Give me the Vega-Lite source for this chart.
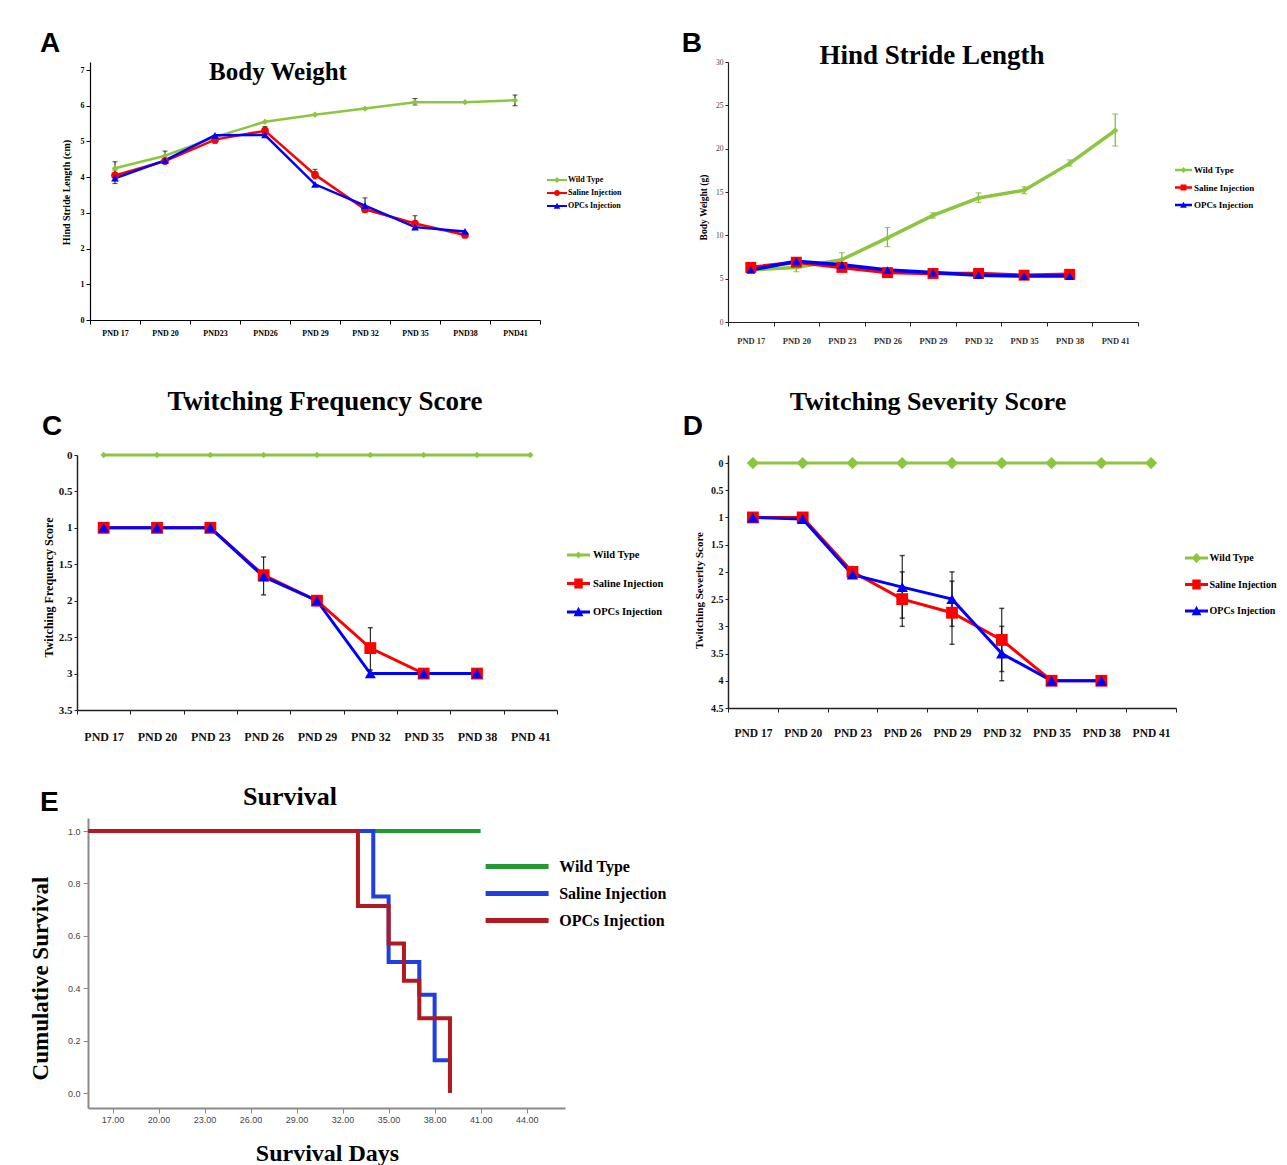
{
  "$schema": "https://vega.github.io/schema/vega-lite/v6.json",
  "background": "white",
  "padding": {"left": 29, "top": 30, "right": 5, "bottom": 5},
  "config": {"view": {"stroke": null}, "axis": {"grid": false}},
  "resolve": {"scale": {"color": "independent"}, "legend": {"color": "independent"}},
  "columns": 4,
  "spacing": 0,
  "bounds": "flush",
  "align": {"row": "each", "column": "each"},
  "datasets": {
    "bw": [
      {"series": "Wild Type", "day": "PND 17", "value": 4.25, "lo": 4.07, "hi": 4.43},
      {"series": "Wild Type", "day": "PND 20", "value": 4.6, "lo": 4.47, "hi": 4.73},
      {"series": "Wild Type", "day": "PND23", "value": 5.12},
      {"series": "Wild Type", "day": "PND26", "value": 5.55},
      {"series": "Wild Type", "day": "PND 29", "value": 5.75},
      {"series": "Wild Type", "day": "PND 32", "value": 5.92},
      {"series": "Wild Type", "day": "PND 35", "value": 6.1, "lo": 6.02, "hi": 6.2},
      {"series": "Wild Type", "day": "PND38", "value": 6.1},
      {"series": "Wild Type", "day": "PND41", "value": 6.15, "lo": 6.0, "hi": 6.3},
      {"series": "Saline Injection", "day": "PND 17", "value": 4.05, "lo": 3.9, "hi": 4.2},
      {"series": "Saline Injection", "day": "PND 20", "value": 4.45},
      {"series": "Saline Injection", "day": "PND23", "value": 5.05, "lo": 4.95, "hi": 5.15},
      {"series": "Saline Injection", "day": "PND26", "value": 5.3, "lo": 5.2, "hi": 5.42},
      {"series": "Saline Injection", "day": "PND 29", "value": 4.07, "lo": 3.95, "hi": 4.22},
      {"series": "Saline Injection", "day": "PND 32", "value": 3.1, "lo": 3.02, "hi": 3.18},
      {"series": "Saline Injection", "day": "PND 35", "value": 2.7, "lo": 2.55, "hi": 2.92},
      {"series": "Saline Injection", "day": "PND38", "value": 2.38},
      {"series": "OPCs Injection", "day": "PND 17", "value": 3.97, "lo": 3.82, "hi": 4.1},
      {"series": "OPCs Injection", "day": "PND 20", "value": 4.47},
      {"series": "OPCs Injection", "day": "PND23", "value": 5.17},
      {"series": "OPCs Injection", "day": "PND26", "value": 5.18},
      {"series": "OPCs Injection", "day": "PND 29", "value": 3.8},
      {"series": "OPCs Injection", "day": "PND 32", "value": 3.2, "lo": 3.05, "hi": 3.42},
      {"series": "OPCs Injection", "day": "PND 35", "value": 2.6},
      {"series": "OPCs Injection", "day": "PND38", "value": 2.48}
    ],
    "hs": [
      {"series": "Wild Type", "day": "PND 17", "value": 6.0},
      {"series": "Wild Type", "day": "PND 20", "value": 6.3, "lo": 5.8, "hi": 6.9},
      {"series": "Wild Type", "day": "PND 23", "value": 7.2, "lo": 6.7, "hi": 8.0},
      {"series": "Wild Type", "day": "PND 26", "value": 9.7, "lo": 8.7, "hi": 10.9},
      {"series": "Wild Type", "day": "PND 29", "value": 12.3, "lo": 12.0, "hi": 12.6},
      {"series": "Wild Type", "day": "PND 32", "value": 14.3, "lo": 13.8, "hi": 14.9},
      {"series": "Wild Type", "day": "PND 35", "value": 15.2, "lo": 14.8, "hi": 15.6},
      {"series": "Wild Type", "day": "PND 38", "value": 18.3, "lo": 18.0, "hi": 18.7},
      {"series": "Wild Type", "day": "PND 41", "value": 22.1, "lo": 20.3, "hi": 24.0},
      {"series": "Saline Injection", "day": "PND 17", "value": 6.3},
      {"series": "Saline Injection", "day": "PND 20", "value": 6.9},
      {"series": "Saline Injection", "day": "PND 23", "value": 6.3},
      {"series": "Saline Injection", "day": "PND 26", "value": 5.7},
      {"series": "Saline Injection", "day": "PND 29", "value": 5.6},
      {"series": "Saline Injection", "day": "PND 32", "value": 5.6},
      {"series": "Saline Injection", "day": "PND 35", "value": 5.4},
      {"series": "Saline Injection", "day": "PND 38", "value": 5.5},
      {"series": "OPCs Injection", "day": "PND 17", "value": 6.0},
      {"series": "OPCs Injection", "day": "PND 20", "value": 7.0},
      {"series": "OPCs Injection", "day": "PND 23", "value": 6.6},
      {"series": "OPCs Injection", "day": "PND 26", "value": 6.0},
      {"series": "OPCs Injection", "day": "PND 29", "value": 5.7},
      {"series": "OPCs Injection", "day": "PND 32", "value": 5.4},
      {"series": "OPCs Injection", "day": "PND 35", "value": 5.3},
      {"series": "OPCs Injection", "day": "PND 38", "value": 5.3}
    ],
    "tf": [
      {"series": "Wild Type", "day": "PND 17", "value": 0},
      {"series": "Wild Type", "day": "PND 20", "value": 0},
      {"series": "Wild Type", "day": "PND 23", "value": 0},
      {"series": "Wild Type", "day": "PND 26", "value": 0},
      {"series": "Wild Type", "day": "PND 29", "value": 0},
      {"series": "Wild Type", "day": "PND 32", "value": 0},
      {"series": "Wild Type", "day": "PND 35", "value": 0},
      {"series": "Wild Type", "day": "PND 38", "value": 0},
      {"series": "Wild Type", "day": "PND 41", "value": 0},
      {"series": "Saline Injection", "day": "PND 17", "value": 1},
      {"series": "Saline Injection", "day": "PND 20", "value": 1},
      {"series": "Saline Injection", "day": "PND 23", "value": 1},
      {"series": "Saline Injection", "day": "PND 26", "value": 1.65, "lo": 1.4, "hi": 1.92},
      {"series": "Saline Injection", "day": "PND 29", "value": 2},
      {"series": "Saline Injection", "day": "PND 32", "value": 2.65, "lo": 2.37, "hi": 2.95},
      {"series": "Saline Injection", "day": "PND 35", "value": 3},
      {"series": "Saline Injection", "day": "PND 38", "value": 3},
      {"series": "OPCs Injection", "day": "PND 17", "value": 1},
      {"series": "OPCs Injection", "day": "PND 20", "value": 1},
      {"series": "OPCs Injection", "day": "PND 23", "value": 1},
      {"series": "OPCs Injection", "day": "PND 26", "value": 1.67},
      {"series": "OPCs Injection", "day": "PND 29", "value": 2},
      {"series": "OPCs Injection", "day": "PND 32", "value": 3},
      {"series": "OPCs Injection", "day": "PND 35", "value": 3},
      {"series": "OPCs Injection", "day": "PND 38", "value": 3}
    ],
    "ts": [
      {"series": "Wild Type", "day": "PND 17", "value": 0},
      {"series": "Wild Type", "day": "PND 20", "value": 0},
      {"series": "Wild Type", "day": "PND 23", "value": 0},
      {"series": "Wild Type", "day": "PND 26", "value": 0},
      {"series": "Wild Type", "day": "PND 29", "value": 0},
      {"series": "Wild Type", "day": "PND 32", "value": 0},
      {"series": "Wild Type", "day": "PND 35", "value": 0},
      {"series": "Wild Type", "day": "PND 38", "value": 0},
      {"series": "Wild Type", "day": "PND 41", "value": 0},
      {"series": "Saline Injection", "day": "PND 17", "value": 1},
      {"series": "Saline Injection", "day": "PND 20", "value": 1},
      {"series": "Saline Injection", "day": "PND 23", "value": 2},
      {"series": "Saline Injection", "day": "PND 26", "value": 2.5, "lo": 2.0, "hi": 3.0},
      {"series": "Saline Injection", "day": "PND 29", "value": 2.75, "lo": 2.17, "hi": 3.33},
      {"series": "Saline Injection", "day": "PND 32", "value": 3.25, "lo": 2.67, "hi": 3.83},
      {"series": "Saline Injection", "day": "PND 35", "value": 4},
      {"series": "Saline Injection", "day": "PND 38", "value": 4},
      {"series": "OPCs Injection", "day": "PND 17", "value": 1},
      {"series": "OPCs Injection", "day": "PND 20", "value": 1.03},
      {"series": "OPCs Injection", "day": "PND 23", "value": 2.05},
      {"series": "OPCs Injection", "day": "PND 26", "value": 2.28, "lo": 1.7, "hi": 2.85},
      {"series": "OPCs Injection", "day": "PND 29", "value": 2.5, "lo": 2.0, "hi": 3.0},
      {"series": "OPCs Injection", "day": "PND 32", "value": 3.5, "lo": 3.0, "hi": 4.0},
      {"series": "OPCs Injection", "day": "PND 35", "value": 4},
      {"series": "OPCs Injection", "day": "PND 38", "value": 4}
    ],
    "sv": [
      {"series": "Wild Type", "day": 15.4, "surv": 1},
      {"series": "Wild Type", "day": 41, "surv": 1},
      {"series": "Saline Injection", "day": 15.4, "surv": 1},
      {"series": "Saline Injection", "day": 34, "surv": 0.75},
      {"series": "Saline Injection", "day": 35, "surv": 0.5},
      {"series": "Saline Injection", "day": 37, "surv": 0.375},
      {"series": "Saline Injection", "day": 38, "surv": 0.125},
      {"series": "Saline Injection", "day": 39, "surv": 0},
      {"series": "OPCs Injection", "day": 15.4, "surv": 1},
      {"series": "OPCs Injection", "day": 33, "surv": 0.714},
      {"series": "OPCs Injection", "day": 35, "surv": 0.571},
      {"series": "OPCs Injection", "day": 36, "surv": 0.429},
      {"series": "OPCs Injection", "day": 37, "surv": 0.286},
      {"series": "OPCs Injection", "day": 39, "surv": 0}
    ]
  },
  "concat": [
    {"width": 13, "height": 1, "data": {"values": []}, "mark": "point", "encoding": {},
     "title": {"text": "A", "anchor": "start", "frame": "group", "font": "Liberation Sans", "fontSize": 28, "fontWeight": "bold", "color": "black", "baseline": "alphabetic", "offset": 0, "dx": -37, "dy": 18}},
    {
      "width": 450, "height": 258,
      "data": {"name": "bw"},
      "title": {"text": "Body Weight", "font": "Liberation Serif", "fontSize": 25, "fontWeight": "bold", "color": "black", "anchor": "middle", "frame": "group", "baseline": "alphabetic", "offset": 0, "dx": -37, "dy": 43},
      "encoding": {
        "x": {"field": "day", "type": "nominal", "sort": null,
              "scale": {"type": "band", "domain": ["PND 17","PND 20","PND23","PND26","PND 29","PND 32","PND 35","PND38","PND41"], "paddingInner": 0, "paddingOuter": 0},
              "axis": {"title": null, "labelAngle": 0, "tickBand": "extent", "labelFont": "Liberation Serif", "labelFontWeight": "bold", "labelFontSize": 8, "labelColor": "black", "domainColor": "black", "domainWidth": 1.2, "tickColor": "black", "tickSize": 4, "labelPadding": 5}},
        "y": {"field": "value", "type": "quantitative", "scale": {"domain": [0, 7.224], "nice": false, "zero": false},
              "axis": {"values": [0,1,2,3,4,5,6,7], "labelOverlap": false, "title": "Hind Stride Length (cm)", "titleFont": "Liberation Serif", "titleFontSize": 10, "titleFontWeight": "bold", "titleColor": "black", "titleX": -19, "titleY": 130, "titleAngle": 270, "titleBaseline": "bottom", "titleAlign": "center", "labelFont": "Liberation Serif", "labelFontSize": 8, "labelFontWeight": "bold", "labelColor": "black", "domainColor": "black", "domainWidth": 1.2, "tickColor": "black", "tickSize": 4}}
      },
      "layer": [
        {"mark": {"type": "line", "strokeWidth": 2.5},
         "encoding": {
           "color": {"field": "series", "type": "nominal", "scale": {"domain": ["Wild Type","Saline Injection","OPCs Injection"], "range": ["#8cc63e","#ff0000","#0000ff"]},
                     "legend": {"orient": "none", "legendX": 461, "legendY": 112, "title": null, "padding": 0, "labelFont": "Liberation Serif", "labelFontWeight": "bold", "labelFontSize": 8, "labelColor": "black", "labelOffset": 5, "symbolSize": 144, "symbolStrokeWidth": 0, "rowPadding": 3,
                       "symbolType": {"expr": "datum.value === 'Wild Type' ? 'M-1.667,-0.17H1.667V0.17H-1.667ZM0,-0.5L0.5,0L0,0.5L-0.5,0Z' : datum.value === 'Saline Injection' ? 'M-1.667,-0.17H1.667V0.17H-1.667ZM0.5,0A0.5,0.5,0,1,1,-0.5,0A0.5,0.5,0,1,1,0.5,0Z' : 'M-1.667,-0.17H1.667V0.17H-1.667ZM0,-0.55L0.55,0.45L-0.55,0.45Z'"},
                       "symbolFillColor": {"expr": "datum.value === 'Wild Type' ? '#8cc63e' : datum.value === 'Saline Injection' ? '#ff0000' : '#0000ff'"}}}
         }},
        {"transform": [{"filter": "isValid(datum.lo)"}], "mark": {"type": "rule", "color": "black", "strokeWidth": 1},
         "encoding": {"y": {"field": "lo", "type": "quantitative", "scale": {"domain": [0, 7.224], "nice": false, "zero": false},
              "axis": {"values": [0,1,2,3,4,5,6,7], "labelOverlap": false, "title": "Hind Stride Length (cm)", "titleFont": "Liberation Serif", "titleFontSize": 10, "titleFontWeight": "bold", "titleColor": "black", "titleX": -19, "titleY": 130, "titleAngle": 270, "titleBaseline": "bottom", "titleAlign": "center", "labelFont": "Liberation Serif", "labelFontSize": 8, "labelFontWeight": "bold", "labelColor": "black", "domainColor": "black", "domainWidth": 1.2, "tickColor": "black", "tickSize": 4}}, "y2": {"field": "hi"}}},
        {"transform": [{"filter": "isValid(datum.lo)"}], "mark": {"type": "tick", "color": "black", "thickness": 1, "size": 5, "orient": "horizontal"},
         "encoding": {"y": {"field": "lo", "type": "quantitative", "scale": {"domain": [0, 7.224], "nice": false, "zero": false},
              "axis": {"values": [0,1,2,3,4,5,6,7], "labelOverlap": false, "title": "Hind Stride Length (cm)", "titleFont": "Liberation Serif", "titleFontSize": 10, "titleFontWeight": "bold", "titleColor": "black", "titleX": -19, "titleY": 130, "titleAngle": 270, "titleBaseline": "bottom", "titleAlign": "center", "labelFont": "Liberation Serif", "labelFontSize": 8, "labelFontWeight": "bold", "labelColor": "black", "domainColor": "black", "domainWidth": 1.2, "tickColor": "black", "tickSize": 4}}}},
        {"transform": [{"filter": "isValid(datum.lo)"}], "mark": {"type": "tick", "color": "black", "thickness": 1, "size": 5, "orient": "horizontal"},
         "encoding": {"y": {"field": "hi", "type": "quantitative", "scale": {"domain": [0, 7.224], "nice": false, "zero": false},
              "axis": {"values": [0,1,2,3,4,5,6,7], "labelOverlap": false, "title": "Hind Stride Length (cm)", "titleFont": "Liberation Serif", "titleFontSize": 10, "titleFontWeight": "bold", "titleColor": "black", "titleX": -19, "titleY": 130, "titleAngle": 270, "titleBaseline": "bottom", "titleAlign": "center", "labelFont": "Liberation Serif", "labelFontSize": 8, "labelFontWeight": "bold", "labelColor": "black", "domainColor": "black", "domainWidth": 1.2, "tickColor": "black", "tickSize": 4}}}},
        {"transform": [{"filter": "datum.series === 'Wild Type'"}], "mark": {"type": "point", "shape": "diamond", "filled": true, "opacity": 1, "size": 40, "color": "#8cc63e"}, "encoding": {}},
        {"transform": [{"filter": "datum.series === 'Saline Injection'"}], "mark": {"type": "point", "shape": "circle", "filled": true, "opacity": 1, "size": 60, "color": "#ff0000"}, "encoding": {}},
        {"transform": [{"filter": "datum.series === 'OPCs Injection'"}], "mark": {"type": "point", "shape": "triangle-up", "filled": true, "opacity": 1, "size": 60, "color": "#0000ff"}, "encoding": {}}
      ]
    },
    {"width": 163, "height": 1, "data": {"values": []}, "mark": "point", "encoding": {},
     "title": {"text": "B", "anchor": "end", "frame": "group", "font": "Liberation Sans", "fontSize": 28, "fontWeight": "bold", "color": "black", "baseline": "alphabetic", "offset": 0, "dx": -26, "dy": 18}},
    {
      "width": 410, "height": 260,
      "data": {"name": "hs"},
      "title": {"text": "Hind Stride Length", "font": "Liberation Serif", "fontSize": 27, "fontWeight": "bold", "color": "black", "anchor": "middle", "frame": "group", "baseline": "alphabetic", "offset": 0, "dx": -1, "dy": 33},
      "encoding": {
        "x": {"field": "day", "type": "nominal", "sort": null,
              "scale": {"type": "band", "domain": ["PND 17","PND 20","PND 23","PND 26","PND 29","PND 32","PND 35","PND 38","PND 41"], "paddingInner": 0, "paddingOuter": 0},
              "axis": {"title": null, "labelAngle": 0, "tickBand": "extent", "labelFont": "Liberation Serif", "labelFontWeight": "bold", "labelFontSize": 8.5, "labelColor": "#333333", "domainColor": "#222222", "domainWidth": 1.2, "tickColor": "#222222", "tickSize": 4, "labelPadding": 10}},
        "y": {"field": "value", "type": "quantitative", "scale": {"domain": [0, 30], "nice": false, "zero": false},
              "axis": {"values": [0,5,10,15,20,25,30], "labelOverlap": false, "title": "Body Weight (g)", "titleFont": "Liberation Serif", "titleFontSize": 9.5, "titleFontWeight": "bold", "titleColor": "black", "titleX": -20, "titleY": 145, "titleAngle": 270, "titleBaseline": "bottom", "titleAlign": "center", "labelFont": "Liberation Serif", "labelFontSize": 7.5, "labelColor": "#444444", "domainColor": "#222222", "domainWidth": 1.2, "tickColor": "#222222", "tickSize": 3}}
      },
      "layer": [
        {"mark": {"type": "line", "strokeWidth": 3.5},
         "encoding": {
           "color": {"field": "series", "type": "nominal", "scale": {"domain": ["Wild Type","Saline Injection","OPCs Injection"], "range": ["#8cc63e","#ff0000","#0000ff"]},
                     "legend": {"orient": "none", "legendX": 449.5, "legendY": 102, "title": null, "padding": 0, "labelFont": "Liberation Serif", "labelFontWeight": "bold", "labelFontSize": 9, "labelColor": "black", "labelOffset": 4.5, "symbolSize": 144, "symbolStrokeWidth": 0, "rowPadding": 6.5,
                       "symbolType": {"expr": "datum.value === 'Wild Type' ? 'M-1.417,-0.2H1.417V0.2H-1.417ZM0,-0.5L0.5,0L0,0.5L-0.5,0Z' : datum.value === 'Saline Injection' ? 'M-1.417,-0.2H1.417V0.2H-1.417ZM-0.5,-0.5H0.5V0.5H-0.5Z' : 'M-1.417,-0.2H1.417V0.2H-1.417ZM0,-0.55L0.55,0.45L-0.55,0.45Z'"},
                       "symbolFillColor": {"expr": "datum.value === 'Wild Type' ? '#8cc63e' : datum.value === 'Saline Injection' ? '#ff0000' : '#0000ff'"}}}
         }},
        {"transform": [{"filter": "isValid(datum.lo)"}], "mark": {"type": "rule", "color": "#7fb536", "strokeWidth": 1.2},
         "encoding": {"y": {"field": "lo", "type": "quantitative", "scale": {"domain": [0, 30], "nice": false, "zero": false},
              "axis": {"values": [0,5,10,15,20,25,30], "labelOverlap": false, "title": "Body Weight (g)", "titleFont": "Liberation Serif", "titleFontSize": 9.5, "titleFontWeight": "bold", "titleColor": "black", "titleX": -20, "titleY": 145, "titleAngle": 270, "titleBaseline": "bottom", "titleAlign": "center", "labelFont": "Liberation Serif", "labelFontSize": 7.5, "labelColor": "#444444", "domainColor": "#222222", "domainWidth": 1.2, "tickColor": "#222222", "tickSize": 3}}, "y2": {"field": "hi"}}},
        {"transform": [{"filter": "isValid(datum.lo)"}], "mark": {"type": "tick", "color": "#7fb536", "thickness": 1.2, "size": 6, "orient": "horizontal"},
         "encoding": {"y": {"field": "lo", "type": "quantitative", "scale": {"domain": [0, 30], "nice": false, "zero": false},
              "axis": {"values": [0,5,10,15,20,25,30], "labelOverlap": false, "title": "Body Weight (g)", "titleFont": "Liberation Serif", "titleFontSize": 9.5, "titleFontWeight": "bold", "titleColor": "black", "titleX": -20, "titleY": 145, "titleAngle": 270, "titleBaseline": "bottom", "titleAlign": "center", "labelFont": "Liberation Serif", "labelFontSize": 7.5, "labelColor": "#444444", "domainColor": "#222222", "domainWidth": 1.2, "tickColor": "#222222", "tickSize": 3}}}},
        {"transform": [{"filter": "isValid(datum.lo)"}], "mark": {"type": "tick", "color": "#7fb536", "thickness": 1.2, "size": 6, "orient": "horizontal"},
         "encoding": {"y": {"field": "hi", "type": "quantitative", "scale": {"domain": [0, 30], "nice": false, "zero": false},
              "axis": {"values": [0,5,10,15,20,25,30], "labelOverlap": false, "title": "Body Weight (g)", "titleFont": "Liberation Serif", "titleFontSize": 9.5, "titleFontWeight": "bold", "titleColor": "black", "titleX": -20, "titleY": 145, "titleAngle": 270, "titleBaseline": "bottom", "titleAlign": "center", "labelFont": "Liberation Serif", "labelFontSize": 7.5, "labelColor": "#444444", "domainColor": "#222222", "domainWidth": 1.2, "tickColor": "#222222", "tickSize": 3}}}},
        {"transform": [{"filter": "datum.series === 'Wild Type'"}], "mark": {"type": "point", "shape": "diamond", "filled": true, "opacity": 1, "size": 40, "color": "#8cc63e"}, "encoding": {}},
        {"transform": [{"filter": "datum.series === 'Saline Injection'"}], "mark": {"type": "point", "shape": "square", "filled": true, "opacity": 1, "size": 120, "color": "#ff0000"}, "encoding": {}},
        {"transform": [{"filter": "datum.series === 'OPCs Injection'"}], "mark": {"type": "point", "shape": "triangle-up", "filled": true, "opacity": 1, "size": 80, "color": "#0000ff"}, "encoding": {}}
      ]
    },
    {"width": 1, "height": 133, "data": {"values": []}, "mark": "point", "encoding": {},
     "title": {"text": "C", "anchor": "start", "frame": "group", "font": "Liberation Sans", "fontSize": 28, "fontWeight": "bold", "color": "black", "baseline": "alphabetic", "offset": 0, "dx": -35, "dy": 141}},
    {"width": 1, "height": 1, "data": {"values": []}, "mark": "point", "encoding": {}},
    {"width": 1, "height": 1, "data": {"values": []}, "mark": "point", "encoding": {}},
    {"width": 1, "height": 1, "data": {"values": []}, "mark": "point", "encoding": {}},
    {"width": 1, "height": 1, "data": {"values": []}, "mark": "point", "encoding": {}},
    {
      "width": 467, "height": 255,
      "data": {"name": "tf"},
      "title": {"text": "Twitching Frequency Score", "font": "Liberation Serif", "fontSize": 27, "fontWeight": "bold", "color": "black", "anchor": "middle", "frame": "group", "baseline": "alphabetic", "offset": 0, "dx": 1.5, "dy": -12},
      "encoding": {
        "x": {"field": "day", "type": "nominal", "sort": null,
              "scale": {"type": "band", "domain": ["PND 17","PND 20","PND 23","PND 26","PND 29","PND 32","PND 35","PND 38","PND 41"], "range": [-13, 467], "paddingInner": 0, "paddingOuter": 0},
              "axis": {"title": null, "labelAngle": 0, "tickBand": "extent", "labelFont": "Liberation Serif", "labelFontWeight": "bold", "labelFontSize": 12, "labelColor": "#111111", "domainColor": "#222222", "domainWidth": 1.5, "tickColor": "#222222", "tickSize": 4, "labelPadding": 17}},
        "y": {"field": "value", "type": "quantitative", "scale": {"domain": [0, 3.5], "reverse": true, "nice": false, "zero": false},
              "axis": {"offset": 13, "values": [0,0.5,1,1.5,2,2.5,3,3.5], "format": "~g", "labelOverlap": false, "title": "Twitching Frequency Score", "titleFont": "Liberation Serif", "titleFontSize": 12, "titleFontWeight": "bold", "titleColor": "black", "titleX": -22, "titleY": 132, "titleAngle": 270, "titleBaseline": "bottom", "titleAlign": "center", "labelFont": "Liberation Serif", "labelFontSize": 11, "labelFontWeight": "bold", "labelColor": "#111111", "domainColor": "#222222", "domainWidth": 1.5, "tickColor": "#222222", "tickSize": 3}}
      },
      "layer": [
        {"mark": {"type": "line", "strokeWidth": 3},
         "encoding": {
           "color": {"field": "series", "type": "nominal", "scale": {"domain": ["Wild Type","Saline Injection","OPCs Injection"], "range": ["#8cc63e","#ff0000","#0000ff"]},
                     "legend": {"orient": "none", "legendX": 481.5, "legendY": 93, "title": null, "padding": 0, "labelFont": "Liberation Serif", "labelFontWeight": "bold", "labelFontSize": 10.5, "labelColor": "black", "labelOffset": 7.5, "symbolSize": 196, "symbolStrokeWidth": 0, "rowPadding": 15.5,
                       "symbolType": {"expr": "datum.value === 'Wild Type' ? 'M-1.643,-0.2H1.643V0.2H-1.643ZM0,-0.5L0.5,0L0,0.5L-0.5,0Z' : datum.value === 'Saline Injection' ? 'M-1.643,-0.2H1.643V0.2H-1.643ZM-0.6,-0.7H0.6V0.7H-0.6Z' : 'M-1.643,-0.2H1.643V0.2H-1.643ZM0,-0.75L0.7,0.6L-0.7,0.6Z'"},
                       "symbolFillColor": {"expr": "datum.value === 'Wild Type' ? '#8cc63e' : datum.value === 'Saline Injection' ? '#ff0000' : '#0000ff'"}}}
         }},
        {"transform": [{"filter": "isValid(datum.lo)"}], "mark": {"type": "rule", "color": "black", "strokeWidth": 1},
         "encoding": {"y": {"field": "lo", "type": "quantitative", "scale": {"domain": [0, 3.5], "reverse": true, "nice": false, "zero": false},
              "axis": {"offset": 13, "values": [0,0.5,1,1.5,2,2.5,3,3.5], "format": "~g", "labelOverlap": false, "title": "Twitching Frequency Score", "titleFont": "Liberation Serif", "titleFontSize": 12, "titleFontWeight": "bold", "titleColor": "black", "titleX": -22, "titleY": 132, "titleAngle": 270, "titleBaseline": "bottom", "titleAlign": "center", "labelFont": "Liberation Serif", "labelFontSize": 11, "labelFontWeight": "bold", "labelColor": "#111111", "domainColor": "#222222", "domainWidth": 1.5, "tickColor": "#222222", "tickSize": 3}}, "y2": {"field": "hi"}}},
        {"transform": [{"filter": "isValid(datum.lo)"}], "mark": {"type": "tick", "color": "black", "thickness": 1.5, "size": 5, "orient": "horizontal"},
         "encoding": {"y": {"field": "lo", "type": "quantitative", "scale": {"domain": [0, 3.5], "reverse": true, "nice": false, "zero": false},
              "axis": {"offset": 13, "values": [0,0.5,1,1.5,2,2.5,3,3.5], "format": "~g", "labelOverlap": false, "title": "Twitching Frequency Score", "titleFont": "Liberation Serif", "titleFontSize": 12, "titleFontWeight": "bold", "titleColor": "black", "titleX": -22, "titleY": 132, "titleAngle": 270, "titleBaseline": "bottom", "titleAlign": "center", "labelFont": "Liberation Serif", "labelFontSize": 11, "labelFontWeight": "bold", "labelColor": "#111111", "domainColor": "#222222", "domainWidth": 1.5, "tickColor": "#222222", "tickSize": 3}}}},
        {"transform": [{"filter": "isValid(datum.lo)"}], "mark": {"type": "tick", "color": "black", "thickness": 1.5, "size": 5, "orient": "horizontal"},
         "encoding": {"y": {"field": "hi", "type": "quantitative", "scale": {"domain": [0, 3.5], "reverse": true, "nice": false, "zero": false},
              "axis": {"offset": 13, "values": [0,0.5,1,1.5,2,2.5,3,3.5], "format": "~g", "labelOverlap": false, "title": "Twitching Frequency Score", "titleFont": "Liberation Serif", "titleFontSize": 12, "titleFontWeight": "bold", "titleColor": "black", "titleX": -22, "titleY": 132, "titleAngle": 270, "titleBaseline": "bottom", "titleAlign": "center", "labelFont": "Liberation Serif", "labelFontSize": 11, "labelFontWeight": "bold", "labelColor": "#111111", "domainColor": "#222222", "domainWidth": 1.5, "tickColor": "#222222", "tickSize": 3}}}},
        {"transform": [{"filter": "datum.series === 'Wild Type'"}], "mark": {"type": "point", "shape": "diamond", "filled": true, "opacity": 1, "size": 40, "color": "#8cc63e"}, "encoding": {}},
        {"transform": [{"filter": "datum.series === 'Saline Injection'"}], "mark": {"type": "point", "shape": "square", "filled": true, "opacity": 1, "size": 140, "color": "#ff0000"}, "encoding": {}},
        {"transform": [{"filter": "datum.series === 'OPCs Injection'"}], "mark": {"type": "point", "shape": "triangle-up", "filled": true, "opacity": 1, "size": 120, "color": "#0000ff"}, "encoding": {}}
      ]
    },
    {"width": 163, "height": 1, "data": {"values": []}, "mark": "point", "encoding": {},
     "title": {"text": "D", "anchor": "end", "frame": "group", "font": "Liberation Sans", "fontSize": 28, "fontWeight": "bold", "color": "black", "baseline": "alphabetic", "offset": 0, "dx": -25, "dy": 8}},
    {
      "width": 448, "height": 253,
      "data": {"name": "ts"},
      "title": {"text": "Twitching Severity Score", "font": "Liberation Serif", "fontSize": 26, "fontWeight": "bold", "color": "black", "anchor": "middle", "frame": "group", "baseline": "alphabetic", "offset": 0, "dx": -24, "dy": -19},
      "encoding": {
        "x": {"field": "day", "type": "nominal", "sort": null,
              "scale": {"type": "band", "domain": ["PND 17","PND 20","PND 23","PND 26","PND 29","PND 32","PND 35","PND 38","PND 41"], "paddingInner": 0, "paddingOuter": 0},
              "axis": {"title": null, "labelAngle": 0, "tickBand": "extent", "labelFont": "Liberation Serif", "labelFontWeight": "bold", "labelFontSize": 11.5, "labelColor": "#111111", "domainColor": "#222222", "domainWidth": 1.5, "tickColor": "#222222", "tickSize": 4, "labelPadding": 15}},
        "y": {"field": "value", "type": "quantitative", "scale": {"domain": [-0.147, 4.5], "reverse": true, "nice": false, "zero": false},
              "axis": {"values": [0,0.5,1,1.5,2,2.5,3,3.5,4,4.5], "format": "~g", "labelOverlap": false, "title": "Twitching Severity Score", "titleFont": "Liberation Serif", "titleFontSize": 11, "titleFontWeight": "bold", "titleColor": "black", "titleX": -24, "titleY": 135, "titleAngle": 270, "titleBaseline": "bottom", "titleAlign": "center", "labelFont": "Liberation Serif", "labelFontSize": 10, "labelFontWeight": "bold", "labelColor": "#111111", "domainColor": "#222222", "domainWidth": 1.5, "tickColor": "#222222", "tickSize": 3}}
      },
      "layer": [
        {"mark": {"type": "line", "strokeWidth": 3},
         "encoding": {
           "color": {"field": "series", "type": "nominal", "scale": {"domain": ["Wild Type","Saline Injection","OPCs Injection"], "range": ["#8cc63e","#ff0000","#0000ff"]},
                     "legend": {"orient": "none", "legendX": 461.5, "legendY": 96, "title": null, "padding": 0, "labelFont": "Liberation Serif", "labelFontWeight": "bold", "labelFontSize": 10, "labelColor": "black", "labelOffset": 6, "symbolSize": 196, "symbolStrokeWidth": 0, "rowPadding": 14.5,
                       "symbolType": {"expr": "datum.value === 'Wild Type' ? 'M-1.643,-0.2H1.643V0.2H-1.643ZM0,-0.7L0.7,0L0,0.7L-0.7,0Z' : datum.value === 'Saline Injection' ? 'M-1.643,-0.2H1.643V0.2H-1.643ZM-0.6,-0.7H0.6V0.7H-0.6Z' : 'M-1.643,-0.2H1.643V0.2H-1.643ZM0,-0.75L0.7,0.6L-0.7,0.6Z'"},
                       "symbolFillColor": {"expr": "datum.value === 'Wild Type' ? '#8cc63e' : datum.value === 'Saline Injection' ? '#ff0000' : '#0000ff'"}}}
         }},
        {"transform": [{"filter": "isValid(datum.lo)"}], "mark": {"type": "rule", "color": "black", "strokeWidth": 1},
         "encoding": {"y": {"field": "lo", "type": "quantitative", "scale": {"domain": [-0.147, 4.5], "reverse": true, "nice": false, "zero": false},
              "axis": {"values": [0,0.5,1,1.5,2,2.5,3,3.5,4,4.5], "format": "~g", "labelOverlap": false, "title": "Twitching Severity Score", "titleFont": "Liberation Serif", "titleFontSize": 11, "titleFontWeight": "bold", "titleColor": "black", "titleX": -24, "titleY": 135, "titleAngle": 270, "titleBaseline": "bottom", "titleAlign": "center", "labelFont": "Liberation Serif", "labelFontSize": 10, "labelFontWeight": "bold", "labelColor": "#111111", "domainColor": "#222222", "domainWidth": 1.5, "tickColor": "#222222", "tickSize": 3}}, "y2": {"field": "hi"}}},
        {"transform": [{"filter": "isValid(datum.lo)"}], "mark": {"type": "tick", "color": "black", "thickness": 1.5, "size": 5, "orient": "horizontal"},
         "encoding": {"y": {"field": "lo", "type": "quantitative", "scale": {"domain": [-0.147, 4.5], "reverse": true, "nice": false, "zero": false},
              "axis": {"values": [0,0.5,1,1.5,2,2.5,3,3.5,4,4.5], "format": "~g", "labelOverlap": false, "title": "Twitching Severity Score", "titleFont": "Liberation Serif", "titleFontSize": 11, "titleFontWeight": "bold", "titleColor": "black", "titleX": -24, "titleY": 135, "titleAngle": 270, "titleBaseline": "bottom", "titleAlign": "center", "labelFont": "Liberation Serif", "labelFontSize": 10, "labelFontWeight": "bold", "labelColor": "#111111", "domainColor": "#222222", "domainWidth": 1.5, "tickColor": "#222222", "tickSize": 3}}}},
        {"transform": [{"filter": "isValid(datum.lo)"}], "mark": {"type": "tick", "color": "black", "thickness": 1.5, "size": 5, "orient": "horizontal"},
         "encoding": {"y": {"field": "hi", "type": "quantitative", "scale": {"domain": [-0.147, 4.5], "reverse": true, "nice": false, "zero": false},
              "axis": {"values": [0,0.5,1,1.5,2,2.5,3,3.5,4,4.5], "format": "~g", "labelOverlap": false, "title": "Twitching Severity Score", "titleFont": "Liberation Serif", "titleFontSize": 11, "titleFontWeight": "bold", "titleColor": "black", "titleX": -24, "titleY": 135, "titleAngle": 270, "titleBaseline": "bottom", "titleAlign": "center", "labelFont": "Liberation Serif", "labelFontSize": 10, "labelFontWeight": "bold", "labelColor": "#111111", "domainColor": "#222222", "domainWidth": 1.5, "tickColor": "#222222", "tickSize": 3}}}},
        {"transform": [{"filter": "datum.series === 'Wild Type'"}], "mark": {"type": "point", "shape": "diamond", "filled": true, "opacity": 1, "size": 150, "color": "#8cc63e"}, "encoding": {}},
        {"transform": [{"filter": "datum.series === 'Saline Injection'"}], "mark": {"type": "point", "shape": "square", "filled": true, "opacity": 1, "size": 140, "color": "#ff0000"}, "encoding": {}},
        {"transform": [{"filter": "datum.series === 'OPCs Injection'"}], "mark": {"type": "point", "shape": "triangle-up", "filled": true, "opacity": 1, "size": 130, "color": "#0000ff"}, "encoding": {}}
      ]
    },
    {"width": 1, "height": 108, "data": {"values": []}, "mark": "point", "encoding": {},
     "title": {"text": "E", "anchor": "start", "frame": "group", "font": "Liberation Sans", "fontSize": 28, "fontWeight": "bold", "color": "black", "baseline": "alphabetic", "offset": 0, "dx": -37, "dy": 129}},
    {"width": 1, "height": 1, "data": {"values": []}, "mark": "point", "encoding": {}},
    {"width": 1, "height": 1, "data": {"values": []}, "mark": "point", "encoding": {}},
    {"width": 1, "height": 1, "data": {"values": []}, "mark": "point", "encoding": {}},
    {"width": 1, "height": 1, "data": {"values": []}, "mark": "point", "encoding": {}},
    {
      "width": 475, "height": 290,
      "data": {"name": "sv"},
      "title": {"text": "Survival", "font": "Liberation Serif", "fontSize": 26, "fontWeight": "bold", "color": "black", "anchor": "middle", "frame": "group", "baseline": "alphabetic", "offset": 0, "dx": -37.5, "dy": 13},
      "mark": {"type": "line", "interpolate": "step-after", "strokeWidth": 4},
      "encoding": {
        "x": {"field": "day", "type": "quantitative", "scale": {"domain": [15.4, 46.5], "range": [-2, 475], "nice": false, "zero": false},
              "axis": {"values": [17,20,23,26,29,32,35,38,41,44], "format": ".2f", "title": "Survival Days", "titleFont": "Liberation Serif", "titleFontSize": 24, "titleFontWeight": "bold", "titleColor": "black", "titleX": 237, "titleY": 52, "titleAlign": "center", "titleBaseline": "alphabetic", "labelFont": "Liberation Sans", "labelFontSize": 9, "labelColor": "#444444", "domainColor": "#8a8a8a", "domainWidth": 2, "tickColor": "#8a8a8a", "tickSize": 5, "labelPadding": 2}},
        "y": {"field": "surv", "type": "quantitative", "scale": {"domain": [-0.057, 1.05], "nice": false, "zero": false},
              "axis": {"offset": 2, "values": [0,0.2,0.4,0.6,0.8,1], "format": ".1f", "title": "Cumulative Survival", "titleFont": "Liberation Serif", "titleFontSize": 23, "titleFontWeight": "bold", "titleColor": "black", "titleX": -36, "titleY": 160, "titleAngle": 270, "titleBaseline": "bottom", "titleAlign": "center", "labelFont": "Liberation Sans", "labelFontSize": 9, "labelColor": "#444444", "domainColor": "#8a8a8a", "domainWidth": 2, "tickColor": "#8a8a8a", "tickSize": 5, "labelPadding": 3}},
        "color": {"field": "series", "type": "nominal", "sort": null, "scale": {"domain": ["Wild Type","Saline Injection","OPCs Injection"], "range": ["#229933","#1f3fe0","#b01a20"]},
                  "legend": {"orient": "none", "legendX": 416.6, "legendY": 38, "title": null, "padding": 0, "labelFont": "Liberation Serif", "labelFontWeight": "bold", "labelFontSize": 16, "labelColor": "black", "labelOffset": 31.6, "symbolType": "M-4,0H4", "symbolSize": 248, "symbolStrokeWidth": 5, "rowPadding": 6}}
      }
    },
    {"width": 1, "height": 1, "data": {"values": []}, "mark": "point", "encoding": {}},
    {"width": 1, "height": 1, "data": {"values": []}, "mark": "point", "encoding": {}}
  ]
}
